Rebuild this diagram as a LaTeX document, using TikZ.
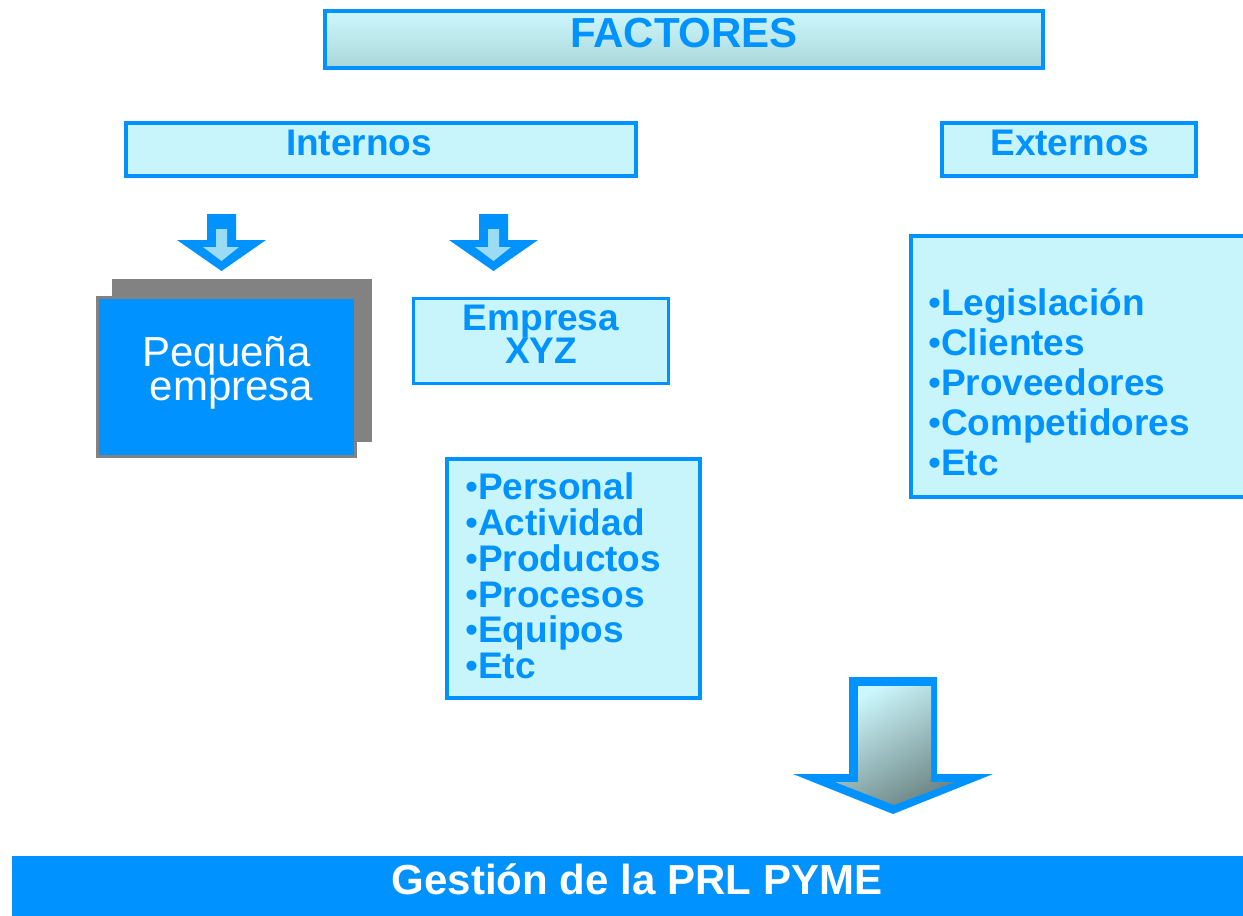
\documentclass[tikz,border=0pt]{standalone}
\usepackage{fontspec}
\setmainfont{Liberation Sans}
\usepackage{xcolor}
\usepackage{tikz}
\usetikzlibrary{positioning, calc}
\definecolor{prlBlue}{HTML}{0092FF}
\definecolor{prlCyan}{HTML}{C8F5FB}
\definecolor{prlGray}{HTML}{828282}
\definecolor{prlTop}{HTML}{CCF7FC}
\definecolor{prlBottom}{HTML}{ABD6D9}
\definecolor{prlLight}{HTML}{9ADCF4}
\definecolor{prlDark}{HTML}{6E8787}

\tikzset{
  box/.style={draw=prlBlue, line width=4, fill=prlCyan, inner sep=0},
  titletext/.style={font=\bfseries\fontsize{42}{42}\selectfont, text=prlBlue, inner sep=0},
  headtext/.style={font=\bfseries\fontsize{37}{37}\selectfont, text=prlBlue, inner sep=0},
  itemtext/.style={font=\bfseries\fontsize{37}{37}\selectfont, text=prlBlue, inner sep=0,
    anchor=base west, text depth=2},
  whitetext/.style={font=\fontsize{42}{42}\selectfont, text=white, inner sep=0, anchor=base}
}

\begin{document}
\begin{tikzpicture}[x=1pt, y=-1pt]
    \useasboundingbox (0,0) rectangle (1243,916);
    % ---- top level ----
    \node[box, top color=prlTop, bottom color=prlBottom,
          minimum width=718, minimum height=57] (factbox) at (684,39.5) {};
    \node[titletext, anchor=base] (factores) at (684,47) {FACTORES};
    \node[box, minimum width=510, minimum height=53] (intbox) at (381,149.5) {};
    \node[headtext, anchor=base] (internos) at (359,155) {Internos};
    \node[box, minimum width=254, minimum height=53] (extbox) at (1069,149.5) {};
    \node[headtext, anchor=base] (externos) at (1069.5,155) {Externos};
    % ---- small arrows ----
    \foreach \dx in {0,272} {
      \begin{scope}[xshift=\dx]
        \fill[prlBlue] (207,214) -- (236,214) -- (236,240) -- (266,240)
          -- (221.5,271) -- (177,240) -- (207,240) -- cycle;
        \fill[prlLight] (216,229) -- (227,229) -- (227,247) -- (239,247)
          -- (221.5,261) -- (203,247) -- (216,247) -- cycle;
      \end{scope}
    }
    % ---- pequena empresa ----
    \fill[prlGray] (112,279) rectangle (372,442);
    \node[draw=prlGray, line width=3, fill=prlBlue, inner sep=0,
          minimum width=258, minimum height=159] (pequebox) at (226.5,377) {};
    \node[whitetext, text depth=2] (pequena) at (226.5,366) {Pequeña};
    \node[whitetext] (empresa) at (231.5,400) {empresa};
    % ---- empresa XYZ ----
    \node[box, line width=3.5, minimum width=255, minimum height=85] (xyzbox) at (541,341) {};
    \node[headtext, anchor=base, text depth=2] (xyz1) at (541,330) {Empresa};
    \node[headtext, anchor=base] (xyz2) at (541,363.3) {XYZ};
    % ---- lists ----
    \node[box, minimum width=253, minimum height=239] (intlist) at (573.5,578.5) {};
    \foreach \item [count=\i] in {Personal, Actividad, Productos, Procesos, Equipos, Etc}
      \node[itemtext] (int\i) at (465,{499.3+35.9*(\i-1)}) {{\mdseries•}\item};
    \node[box, minimum width=349, minimum height=261] (extlist) at (1085.5,366.5) {};
    \foreach \item [count=\i] in {Legislación, Clientes, Proveedores, Competidores, Etc}
      \node[itemtext] (ext\i) at (928,{315+40.2*(\i-1)}) {{\mdseries•}\item};
    % ---- big arrow ----
    \fill[prlBlue] (849,677) -- (937,677) -- (937,774) -- (993,774)
      -- (893,814) -- (793,774) -- (849,774) -- cycle;
    \shade[top color=prlTop, bottom color=prlDark, shading angle=30]
      (858,686) -- (931,686) -- (931,782) -- (955,782)
      -- (894,805) -- (835,782) -- (858,782) -- cycle;
    % ---- bottom bar ----
    \node[fill=prlBlue, inner sep=0, minimum width=1231, minimum height=60] (prlbar) at (627.5,886) {};
    \node[titletext, text=white, anchor=base] (gestion) at (637,894) {Gestión de la PRL PYME};
  \end{tikzpicture}
\end{document}
